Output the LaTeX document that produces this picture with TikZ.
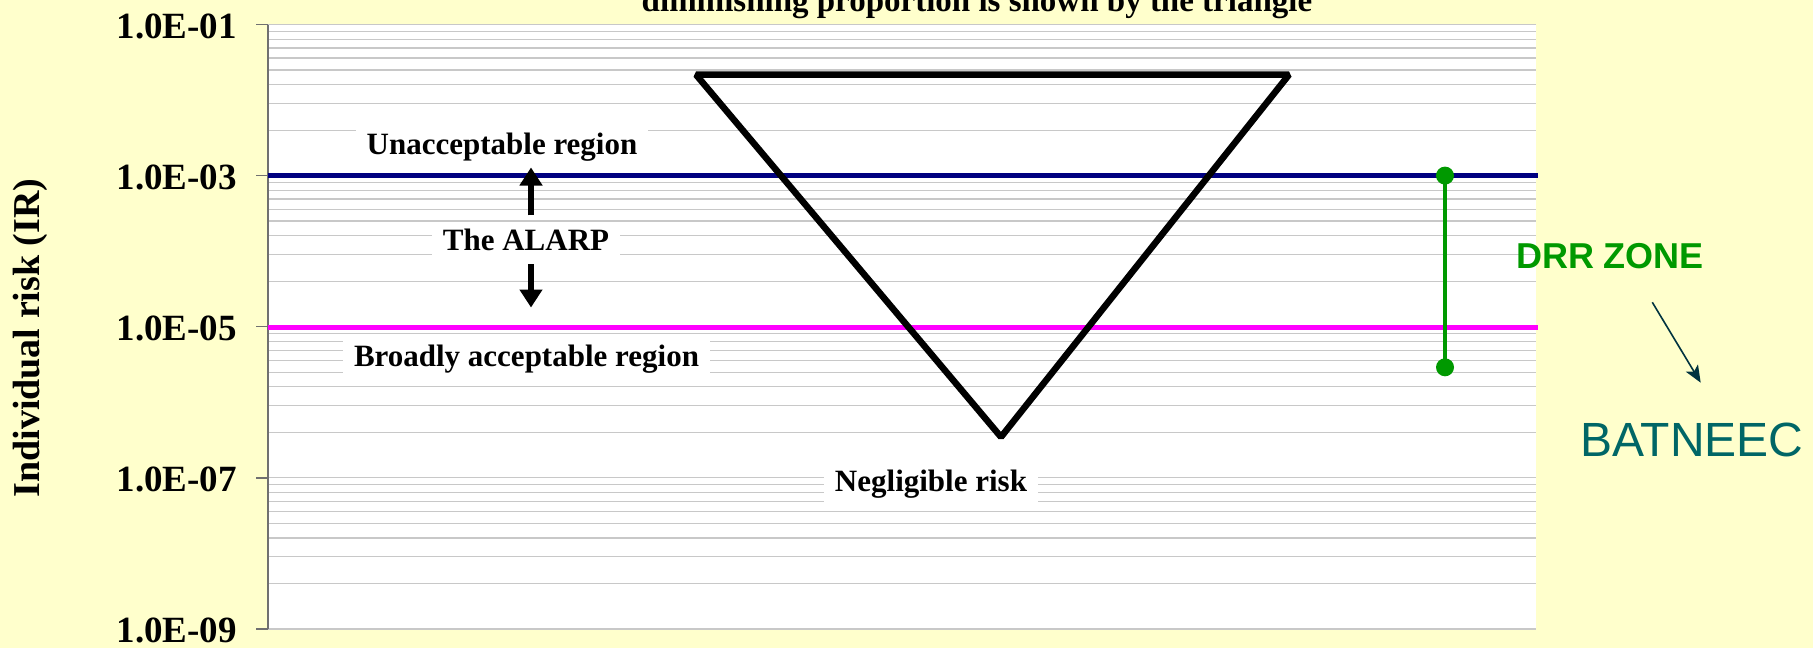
\documentclass[tikz,border=0pt]{standalone}
\usepackage{fontspec}
\setmainfont{Liberation Serif}
\newfontfamily\arialfont{Liberation Sans}
\usetikzlibrary{arrows.meta}
\definecolor{bgyellow}{HTML}{FFFFCC}
\definecolor{gridgray}{HTML}{C8C8C8}
\definecolor{axisgray}{HTML}{707070}
\definecolor{navyline}{HTML}{000080}
\definecolor{magline}{HTML}{FF00FF}
\definecolor{drrgreen}{HTML}{009900}
\definecolor{batteal}{HTML}{006666}
\definecolor{thinarrowcol}{HTML}{003340}
\begin{document}
\begin{tikzpicture}[x=1pt,y=-1pt,
  gridline/.style={draw=gridgray,line width=1.2pt},
  ticklab/.style={anchor=east,inner sep=0pt,font=\fontsize{37}{40}\selectfont\bfseries},
  boxlab/.style={fill=white,inner xsep=11pt,inner ysep=5pt,anchor=base,font=\fontsize{31}{34}\selectfont\bfseries},
  bigarrow/.style={line width=6pt,-{Triangle[width=22pt,length=18pt]}},
  tri/.style={line width=6.5pt,line join=bevel},
  gdot/.style={circle,fill=drrgreen,inner sep=0pt,minimum size=18pt},
  thinarrow/.style={draw=thinarrowcol,line width=1.6pt,-{Stealth[length=17pt,width=14pt,inset=4pt]}}]
\useasboundingbox (0,0) rectangle (1813,648);
\clip (0,0) rectangle (1813,648);
\fill[bgyellow] (0,0) rectangle (1813,648);
% plot area
\fill[white] (268,24.5) rectangle (1536,628.9);
\foreach \i in {0,1,2,3}{
  \foreach \k in {2,...,9}{
    \pgfmathsetmacro{\yy}{24.5+(\i+1)*151.1-log10(\k)*151.1}
    \draw[gridline] (268,\yy) -- (1536,\yy);
  }
}
\foreach \i in {0,...,4}{
  \draw[gridline] (268,{24.5+\i*151.1}) -- (1536,{24.5+\i*151.1});
  \draw[axisgray,line width=1.5pt] (256,{24.5+\i*151.1}) -- (268,{24.5+\i*151.1});
}
\draw[axisgray,line width=1.5pt] (268,24.5) -- (268,628.9);
% limit lines
\draw[navyline,line width=4.5pt] (268,175.6) -- (1538,175.6);
\draw[magline,line width=5pt] (268,327) -- (1538,327);
% axis labels
\node[ticklab] (t1) at (237,26.5) {1.0E-01};
\node[ticklab] (t3) at (237,177.6) {1.0E-03};
\node[ticklab] (t5) at (237,328.7) {1.0E-05};
\node[ticklab] (t7) at (237,479.8) {1.0E-07};
\node[ticklab] (t9) at (237,630.9) {1.0E-09};
\node[rotate=90,font=\fontsize{38}{40}\selectfont\bfseries] (ylab) at (30,338) {Individual risk (IR)};
% title (cut at the top, as in the reference)
\node[anchor=base,inner sep=0pt,font=\fontsize{33}{36}\selectfont\bfseries] (title) at (977,11.7) {diminishing proportion is shown by the triangle};
% triangle
\draw[tri] (696,74.7) -- (1289,74.7) -- (1001,437) -- cycle;
% region labels
\node[boxlab] (unacc) at (502,154) {Unacceptable region};
\node[boxlab] (alarp) at (526,250) {The ALARP};
\node[boxlab,inner ysep=4pt] (broad) at (526.5,366.7) {Broadly acceptable region};
\node[boxlab] (negl) at (931,491) {Negligible risk};
% ALARP arrows
\coordinate (upTip) at (531,167.5);
\coordinate (downTip) at (531,307.5);
\draw[bigarrow] ([yshift=8pt]alarp.north -| upTip) -- (upTip);
\draw[bigarrow] ([yshift=-9pt]alarp.south -| downTip) -- (downTip);
% DRR zone
\draw[drrgreen,line width=4.7pt] (1445,175.6) -- (1445,367.3);
\node[gdot] (g1) at (1445,175.6) {};
\node[gdot] (g2) at (1445,367.3) {};
\node[anchor=base,inner sep=0pt,text=drrgreen,font=\arialfont\fontsize{36}{38}\selectfont\bfseries] (drr) at (1610,268.3) {DRR ZONE};
\node[anchor=base,inner sep=0pt,text=batteal,font=\arialfont\fontsize{48}{50}\selectfont] (bat) at (1692,456) {BATNEEC};
\coordinate (arrS) at (1652.3,302.3);
\coordinate (arrE) at (1700.7,382.7);
\draw[thinarrow] (arrS) -- (arrE);
\end{tikzpicture}
\end{document}
